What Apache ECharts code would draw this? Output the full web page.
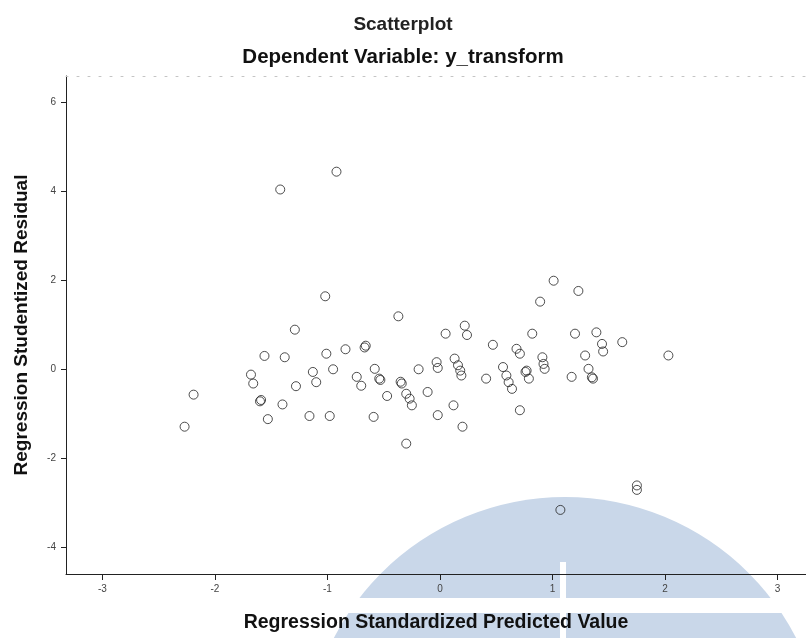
<!DOCTYPE html>
<html>
<head>
<meta charset="utf-8">
<script src="https://cdn.jsdelivr.net/npm/echarts@6/dist/echarts.min.js"></script>
<style>
  html, body { margin: 0; padding: 0; background: #fff; }
  #chart { width: 806px; height: 638px; }
</style>
</head>
<body>
<div id="chart"></div>
<script>
// predicted (x) vs studentized residual (y)
const predicted = [
  -2.19, -2.27, -1.29, -1.56, -1.38, -1.01, -0.84, -1.68, -1.66, -1.60,
  -1.59, -1.40, -1.53, -1.28, -1.13, -1.10, -0.95, -1.16, -0.98, -1.02,
  -1.42, -0.92, -0.37, 0.89, 1.01, 1.23, 0.05, 0.22, 0.24, 0.82,
  1.20, 1.39, 1.44, 1.45, 1.62, 1.29, 1.32, 1.36, 1.35, 1.17,
  -0.66, -0.67, -0.74, -0.70, -0.58, -0.54, -0.53, -0.47, -0.34, -0.35,
  -0.30, -0.27, -0.25, -0.11, -0.19, -0.02, -0.03, 0.13, 0.16, 0.18,
  0.19, -0.59, -0.02, 0.12, 0.20, -0.30, 0.47, 0.68, 0.71, 0.56,
  0.59, 0.61, 0.64, 0.41, 0.76, 0.77, 0.79, 0.91, 0.92, 0.93,
  0.71, 1.07, 2.03, 1.75, 1.75
];
const residual = [
  -0.56, -1.28, 0.90, 0.31, 0.28, 0.36, 0.46, -0.11, -0.31, -0.71,
  -0.68, -0.78, -1.11, -0.37, -0.05, -0.28, 0.01, -1.04, -1.04, 1.65,
  4.05, 4.45, 1.20, 1.53, 2.00, 1.77, 0.81, 0.99, 0.78, 0.81,
  0.81, 0.84, 0.58, 0.41, 0.62, 0.32, 0.02, -0.20, -0.17, -0.16,
  0.54, 0.50, -0.16, -0.36, 0.02, -0.20, -0.23, -0.59, -0.31, -0.27,
  -0.54, -0.65, -0.80, -0.50, 0.01, 0.04, 0.17, 0.25, 0.10, -0.02,
  -0.13, -1.06, -1.02, -0.80, -1.28, -1.66, 0.56, 0.47, 0.36, 0.06,
  -0.13, -0.28, -0.43, -0.20, -0.05, -0.02, -0.20, 0.28, 0.13, 0.02,
  -0.91, -3.15, 0.32, -2.60, -2.70
];
const xTicks = [-3, -2, -1, 0, 1, 2, 3];
const yTicks = [-4, -2, 0, 2, 4, 6];

const points = predicted.map((x, i) => [x, residual[i]]);

const chart = echarts.init(document.getElementById('chart'));

const xRange = { min: -3.324, max: 3.253 };
const font = 'Liberation Sans, Arial';

chart.setOption({
  backgroundColor: '#fff',
  animation: false,
  title: [
    {
      text: 'Scatterplot',
      left: 'center',
      top: 10,
      textStyle: { fontFamily: font, fontSize: 19, fontWeight: 'bold', color: '#222' }
    },
    {
      text: 'Dependent Variable: y_transform',
      left: 'center',
      top: 42,
      textStyle: { fontFamily: font, fontSize: 20.5, fontWeight: 'bold', color: '#111' }
    }
  ],
  graphic: [
    // faint watermark behind the plot
    { type: 'circle', shape: { cx: 565, cy: 757, r: 260 }, style: { fill: '#c9d7e9' }, z: -10, silent: true },
    { type: 'rect', shape: { x: 300, y: 598, width: 520, height: 15 }, style: { fill: '#fff' }, z: -9, silent: true },
    { type: 'rect', shape: { x: 560, y: 562, width: 6, height: 80 }, style: { fill: '#fff' }, z: -9, silent: true }
  ],
  grid: {
    left: 66,
    right: 0,
    top: 76,
    bottom: 62
  },
  xAxis: [
    {
      type: 'value',
      min: xRange.min,
      max: xRange.max,
      name: 'Regression Standardized Predicted Value',
      nameLocation: 'middle',
      nameGap: 39,
      nameTextStyle: { fontFamily: font, fontSize: 19.5, fontWeight: 'bold', color: '#111' },
      axisLine: { show: true, onZero: false, lineStyle: { color: '#222', width: 1 } },
      axisTick: { show: true, length: 6, customValues: xTicks, lineStyle: { color: '#222' } },
      axisLabel: {
        customValues: xTicks,
        margin: 10,
        fontSize: 10,
        color: '#444',
        fontFamily: font
      },
      splitLine: { show: false }
    },
    {
      type: 'value',
      position: 'top',
      min: xRange.min,
      max: xRange.max,
      axisLine: { show: true, onZero: false, lineStyle: { color: '#c4c4c4', width: 1, type: [2, 9] } },
      axisTick: { show: false },
      axisLabel: { show: false },
      splitLine: { show: false }
    }
  ],
  yAxis: {
    type: 'value',
    min: -4.59,
    max: 6.6,
    name: 'Regression Studentized Residual',
    nameLocation: 'middle',
    nameGap: 35,
    nameTextStyle: { fontFamily: font, fontSize: 19, fontWeight: 'bold', color: '#111' },
    axisLine: { show: true, onZero: false, lineStyle: { color: '#222', width: 1 } },
    axisTick: { show: true, length: 5, customValues: yTicks, lineStyle: { color: '#222' } },
    axisLabel: {
      customValues: yTicks,
      margin: 10,
      fontSize: 10,
      color: '#444',
      fontFamily: font
    },
    splitLine: { show: false }
  },
  series: [
    {
      type: 'scatter',
      data: points,
      symbol: 'circle',
      symbolSize: 9,
      itemStyle: {
        color: 'rgba(255,255,255,0)',
        borderColor: '#222',
        borderWidth: 1
      }
    }
  ]
});
</script>
</body>
</html>
